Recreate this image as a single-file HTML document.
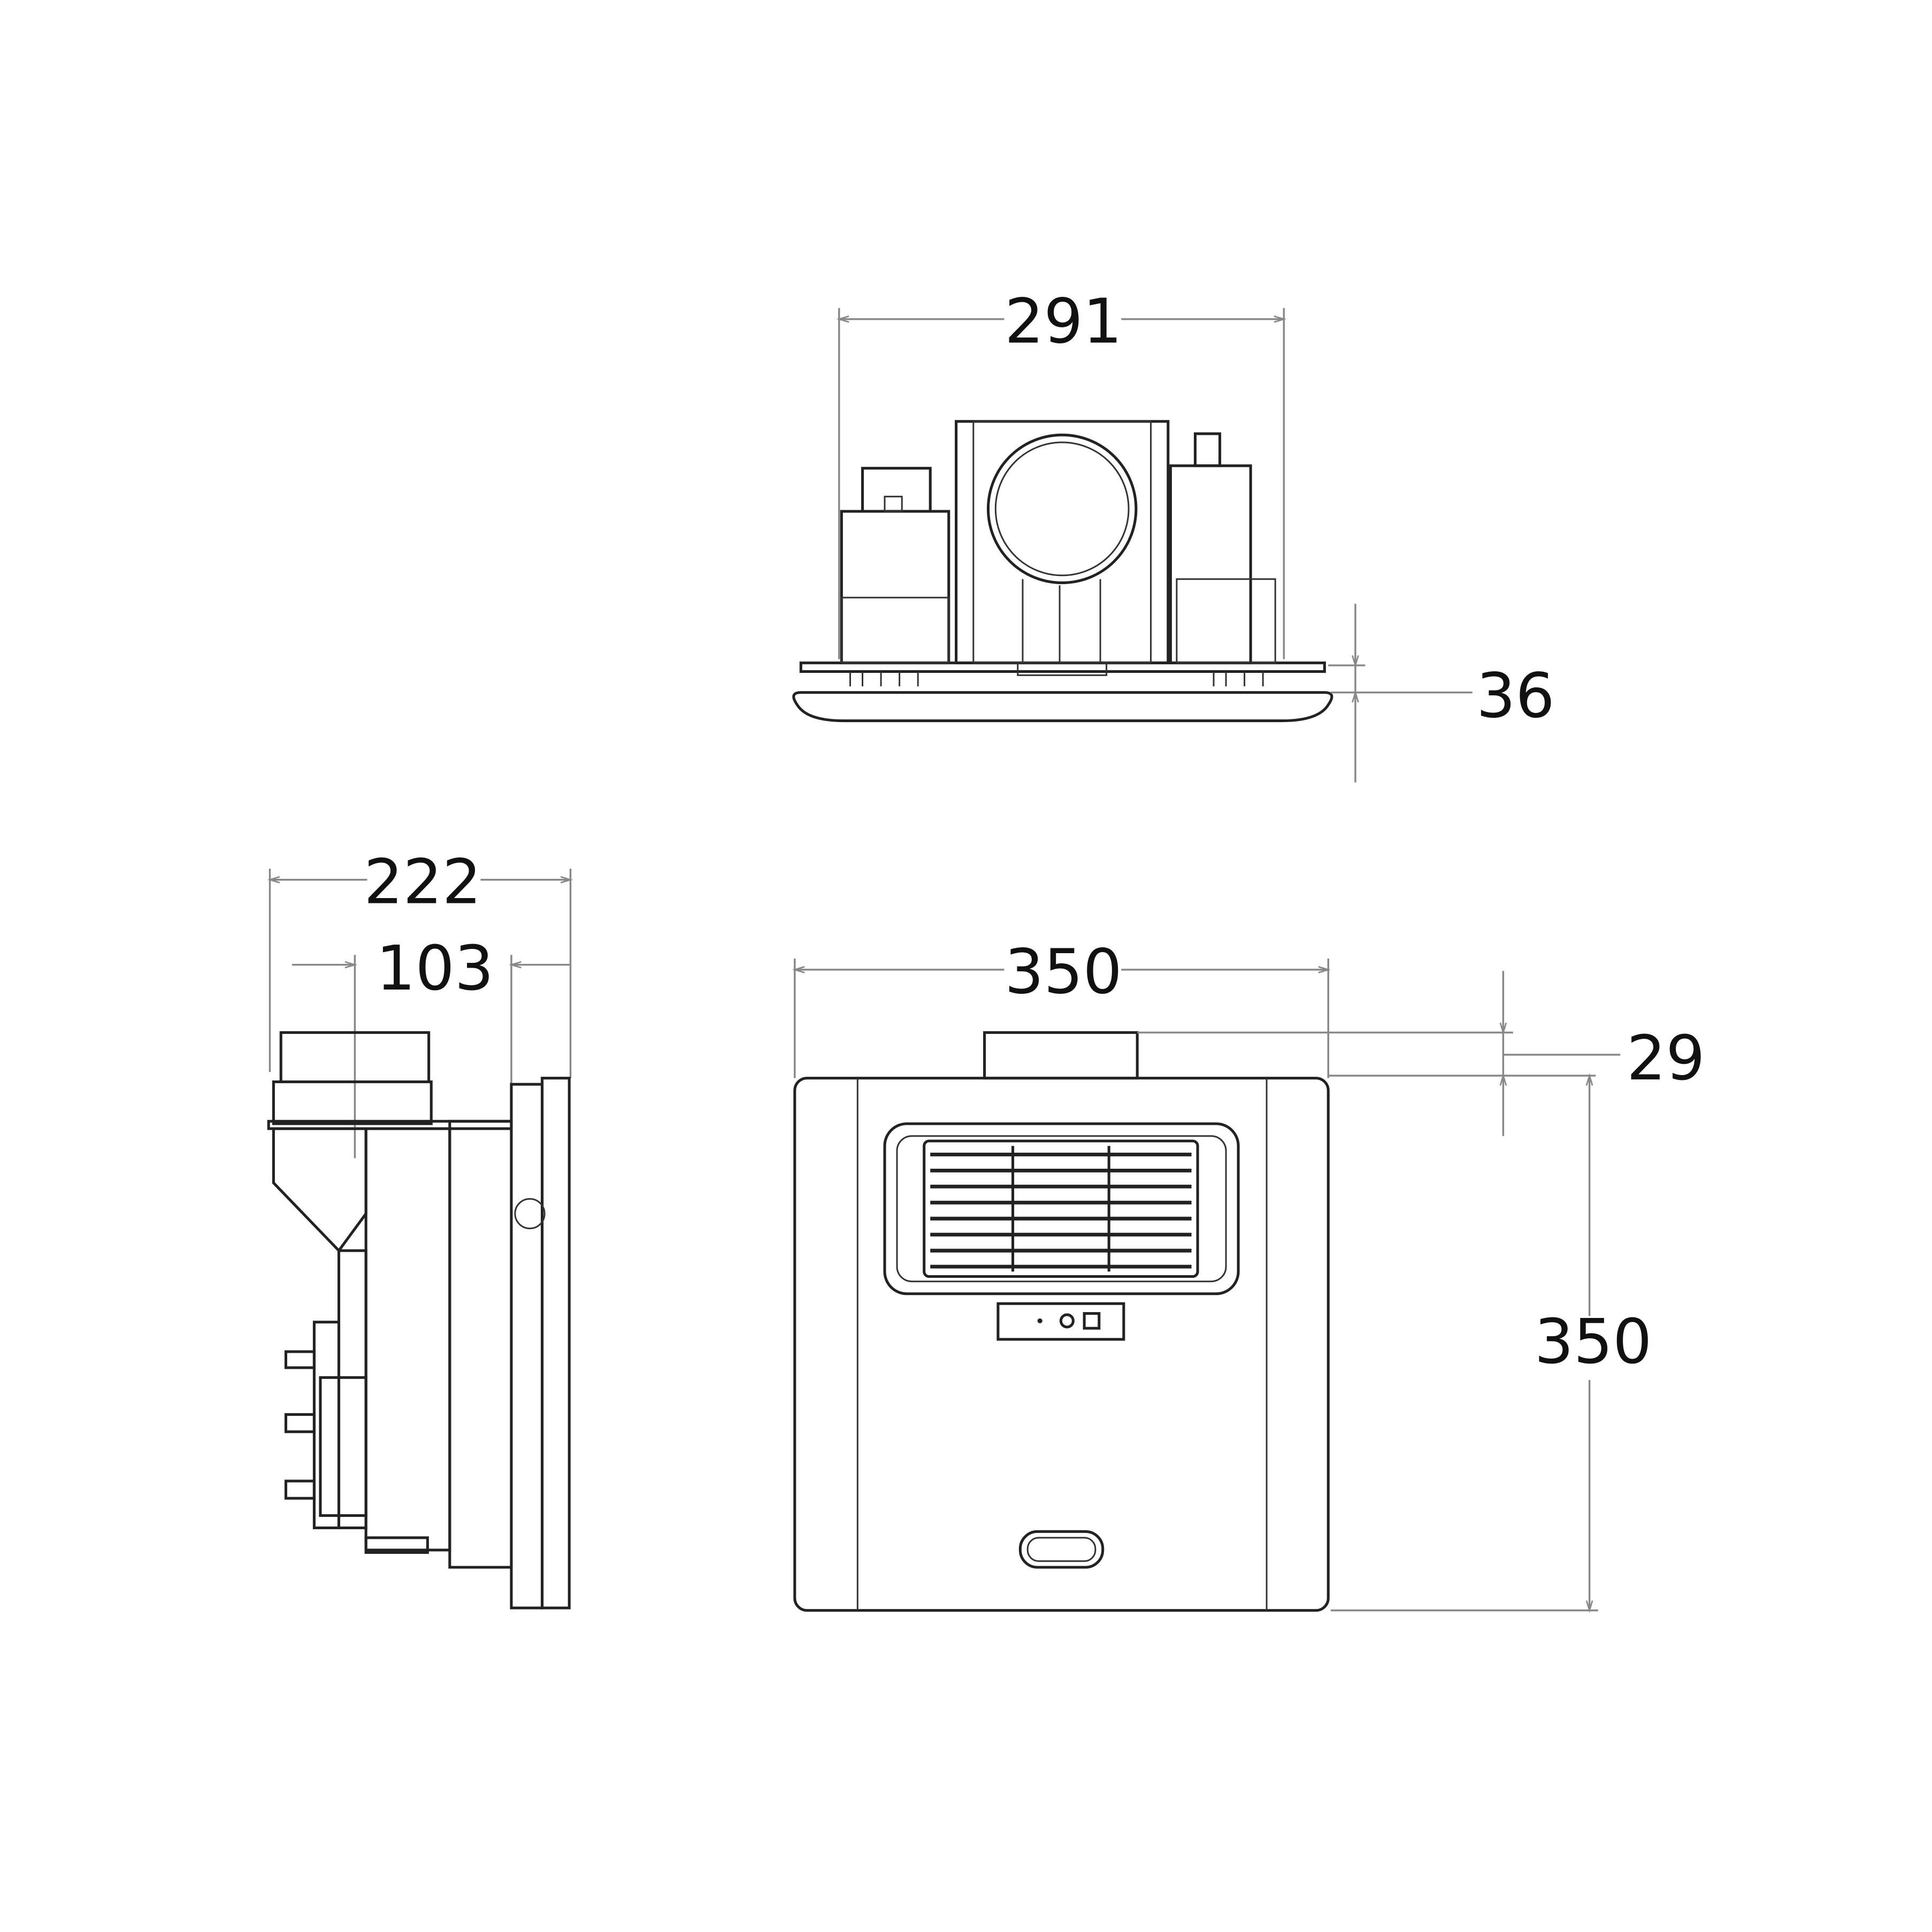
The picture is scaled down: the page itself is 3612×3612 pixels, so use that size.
<!DOCTYPE html>
<html><head><meta charset="utf-8"><style>
html,body{margin:0;padding:0;background:#fff;}
svg{display:block;}
text{font-family:"DejaVu Sans","Liberation Sans",sans-serif;font-size:50px;fill:#111;text-anchor:middle;}
.d{stroke:#888;stroke-width:1.5;fill:none;}
.s{stroke:#222;stroke-width:2.2;fill:none;}
.t{stroke:#333;stroke-width:1.3;fill:none;}
</style></head><body>
<svg width="3612" height="3612" viewBox="0 0 1568 1568" xmlns="http://www.w3.org/2000/svg">
<defs>
<marker id="a" viewBox="0 0 10 10" refX="10" refY="5" markerWidth="14" markerHeight="8" orient="auto-start-reverse" markerUnits="userSpaceOnUse"><path d="M0,2 L10,5 L0,8" fill="none" stroke="#888" stroke-width="1.5"/></marker>
</defs>
<rect width="1568" height="1568" fill="#fff"/>

<!-- TOP VIEW -->
<line class="d" x1="681" y1="250" x2="681" y2="535"/>
<line class="d" x1="1042" y1="250" x2="1042" y2="535"/>
<line class="d" x1="681" y1="259" x2="815" y2="259" marker-start="url(#a)"/>
<line class="d" x1="910" y1="259" x2="1042" y2="259" marker-end="url(#a)"/>
<text x="863" y="278">291</text>
<path class="s" d="M650,538 H1075 V545 H650 Z"/>
<path class="s" d="M650,562 H1075 Q1085,562 1078,572 Q1070,585 1040,585 H685 Q655,585 647,572 Q640,562 650,562 Z"/>
<rect class="s" x="776" y="342" width="172" height="196"/>
<rect class="t" x="790" y="342" width="144" height="196"/>
<circle class="s" cx="862" cy="413" r="60"/>
<circle class="t" cx="862" cy="413" r="54"/>
<line class="t" x1="830" y1="470" x2="830" y2="538"/><line class="t" x1="860" y1="475" x2="860" y2="538"/><line class="t" x1="893" y1="470" x2="893" y2="538"/>
<rect class="t" x="826" y="538" width="72" height="10"/>
<rect class="s" x="683" y="415" width="87" height="123"/>
<rect class="t" x="683" y="485" width="87" height="53"/>
<rect class="s" x="700" y="380" width="55" height="35"/>
<rect class="t" x="718" y="403" width="14" height="12"/>
<rect class="s" x="950" y="378" width="65" height="160"/>
<rect class="t" x="955" y="470" width="80" height="68"/>
<rect class="s" x="970" y="352" width="20" height="26"/>
<path class="t" d="M690,545 v12 M700,545 v12 M715,545 v12 M730,545 v12 M745,545 v12 M985,545 v12 M995,545 v12 M1010,545 v12 M1025,545 v12"/>
<line class="d" x1="1100" y1="490" x2="1100" y2="540" marker-end="url(#a)"/>
<line class="d" x1="1100" y1="635" x2="1100" y2="562" marker-end="url(#a)"/>
<line class="d" x1="1100" y1="540" x2="1100" y2="562"/>
<line class="d" x1="1078" y1="540" x2="1108" y2="540"/>
<line class="d" x1="1080" y1="562" x2="1195" y2="562"/>
<text x="1230" y="582">36</text>

<!-- SIDE VIEW -->
<line class="d" x1="219" y1="705" x2="219" y2="870"/>
<line class="d" x1="463" y1="705" x2="463" y2="875"/>
<line class="d" x1="219" y1="714" x2="298" y2="714" marker-start="url(#a)"/>
<line class="d" x1="390" y1="714" x2="463" y2="714" marker-end="url(#a)"/>
<text x="343" y="733">222</text>
<line class="d" x1="288" y1="775" x2="288" y2="940"/>
<line class="d" x1="415" y1="775" x2="415" y2="880"/>
<line class="d" x1="237" y1="783" x2="288" y2="783" marker-end="url(#a)"/>
<line class="d" x1="463" y1="783" x2="415" y2="783" marker-end="url(#a)"/>
<text x="353" y="803">103</text>
<rect class="s" x="228" y="838" width="120" height="40"/>
<rect class="s" x="222" y="878" width="128" height="34"/>
<rect class="s" x="218" y="910" width="197" height="6"/>
<path class="s" d="M222,916 H297 V985 L275,1015 L222,960 Z"/>
<rect class="s" x="297" y="916" width="68" height="342"/>
<path class="s" d="M365,910 H415 V1272 H365 Z"/>
<rect class="s" x="415" y="880" width="25" height="425"/>
<rect class="s" x="440" y="875" width="22" height="430"/>
<circle class="t" cx="430" cy="985" r="12"/>
<rect class="s" x="275" y="1015" width="22" height="225"/>
<rect class="s" x="260" y="1118" width="37" height="112"/>
<rect class="s" x="255" y="1073" width="20" height="167"/>
<rect class="s" x="232" y="1097" width="23" height="13"/>
<rect class="s" x="232" y="1148" width="23" height="14"/>
<rect class="s" x="232" y="1202" width="23" height="14"/>
<rect class="s" x="297" y="1248" width="50" height="12"/>

<!-- FRONT VIEW -->
<line class="d" x1="645" y1="778" x2="645" y2="875"/>
<line class="d" x1="1078" y1="778" x2="1078" y2="875"/>
<line class="d" x1="645" y1="787" x2="815" y2="787" marker-start="url(#a)"/>
<line class="d" x1="910" y1="787" x2="1078" y2="787" marker-end="url(#a)"/>
<text x="863" y="806">350</text>
<rect class="s" x="799" y="838" width="124" height="37"/>
<rect class="s" x="645" y="875" width="433" height="432" rx="10"/>
<line class="t" x1="696" y1="875" x2="696" y2="1307"/>
<line class="t" x1="1028" y1="875" x2="1028" y2="1307"/>
<rect class="s" x="718" y="912" width="287" height="138" rx="18"/>
<rect class="t" x="728" y="922" width="267" height="118" rx="12"/>
<rect class="s" x="750" y="926" width="222" height="110" rx="4"/>
<g stroke="#222" stroke-width="3">
<line x1="755" y1="937" x2="967" y2="937"/><line x1="755" y1="950" x2="967" y2="950"/><line x1="755" y1="963" x2="967" y2="963"/><line x1="755" y1="976" x2="967" y2="976"/><line x1="755" y1="989" x2="967" y2="989"/><line x1="755" y1="1002" x2="967" y2="1002"/><line x1="755" y1="1015" x2="967" y2="1015"/><line x1="755" y1="1028" x2="967" y2="1028"/>
</g>
<line class="s" x1="822" y1="930" x2="822" y2="1032"/>
<line class="s" x1="900" y1="930" x2="900" y2="1032"/>
<rect class="s" x="810" y="1058" width="102" height="29"/>
<circle cx="844" cy="1072" r="2" fill="#222"/>
<circle class="s" cx="866" cy="1072" r="5"/>
<rect class="s" x="880" y="1066" width="12" height="12"/>
<rect class="s" x="828" y="1243" width="67" height="29" rx="14"/>
<rect class="t" x="834" y="1248" width="55" height="19" rx="9"/>
<line class="d" x1="1220" y1="788" x2="1220" y2="838" marker-end="url(#a)"/>
<line class="d" x1="1220" y1="922" x2="1220" y2="873" marker-end="url(#a)"/>
<line class="d" x1="1220" y1="838" x2="1220" y2="873"/>
<line class="d" x1="923" y1="838" x2="1228" y2="838"/>
<line class="d" x1="1078" y1="873" x2="1295" y2="873"/>
<line class="d" x1="1220" y1="856" x2="1315" y2="856"/>
<text x="1352" y="876">29</text>
<line class="d" x1="1290" y1="1068" x2="1290" y2="873" marker-end="url(#a)"/>
<line class="d" x1="1290" y1="1120" x2="1290" y2="1307" marker-end="url(#a)"/>
<line class="d" x1="1080" y1="1307" x2="1297" y2="1307"/>
<text x="1293" y="1106">350</text>
</svg>
</body></html>
